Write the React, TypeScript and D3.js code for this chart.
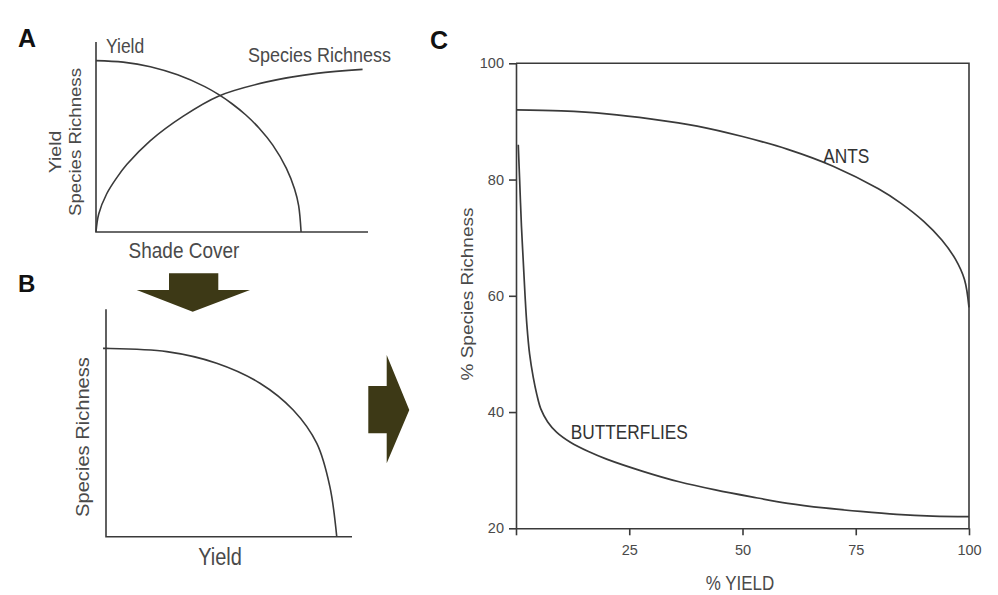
import React, { useRef, useEffect } from 'react';
import * as d3 from 'd3';

// Panel A: yield and species richness vs. shade cover (relative units 0-100)
const yieldShade = [0, 10, 20, 30, 40, 45, 50, 55, 60, 65, 70, 73, 74.5, 75.4];
const yieldLevel = [90.2, 89.4, 87.0, 82.7, 76.5, 72.4, 67.5, 61.7, 54.6, 45.7, 33.5, 22.6, 13.9, 0];
const richnessShade = [0, 1, 3.9, 7.6, 11.3, 19.9, 32.1, 45, 62.8, 81.1, 98];
const richnessLevel = [0, 9.5, 20, 28.5, 35.5, 48, 61, 71.5, 79, 83.5, 85.6];

// Panel B: the resulting trade-off frontier
const frontierYield = [-1.2, 0, 24.7, 45, 62.6, 76.1, 85.7, 91, 93.8];
const frontierRichness = [82.8, 82.8, 81.4, 76.3, 67.5, 55.7, 41, 22, 0];

// Panel C: % species richness vs % yield
const antsYield = [0, 10, 20, 30, 40, 50, 60, 70, 80, 85, 90, 94, 97, 99, 100];
const antsRichness = [92, 91.8, 91.3, 90.4, 89.2, 87.4, 85.2, 82.3, 78.4, 75.9, 72.8, 69.6, 66.3, 62.8, 58];
const butterflyYield = [0.5, 0.8, 1.2, 1.6, 2.0, 2.4, 3.0, 3.8, 4.6, 5.5, 7, 9, 12, 16, 20, 28, 36, 44, 52, 60, 68, 76, 84, 92, 100];
const butterflyRichness = [86, 80, 72, 66, 60, 55, 50, 46, 43, 40.5, 38.3, 36.5, 34.8, 33.2, 31.9, 29.8, 28.0, 26.6, 25.4, 24.3, 23.5, 22.9, 22.4, 22.1, 22];
const xTicksC = [0, 25, 50, 75, 100];
const yTicksC = [20, 40, 60, 80, 100];

const font = "'Liberation Sans', Arial, Helvetica, sans-serif";
const ink = '#3a3a3a';
const labelInk = '#4a4a4a';
const arrowFill = '#3d3916';
const stretch = 1.15; // the source figure is slightly stretched vertically

const App: React.FC = () => {
    const svgRef = useRef<SVGSVGElement>(null);

    useEffect(() => {
        if (!svgRef.current) return;
        const svg = d3.select(svgRef.current);
        svg.selectAll("*").remove();

        const addText = (txt: string, x: number, y: number, size: number, opts: any = {}) => {
            const t = svg.append("text")
                .attr("x", 0)
                .attr("y", 0)
                .text(txt)
                .attr("font-family", font)
                .attr("font-size", size)
                .attr("fill", opts.fill || labelInk)
                .attr("text-anchor", opts.anchor || "start");
            if (opts.bold) t.attr("font-weight", "bold");
            const s = opts.noStretch ? 1 : stretch;
            if (opts.rotate) t.attr("transform", `translate(${x},${y}) rotate(-90) scale(${s},1)`);
            else t.attr("transform", `translate(${x},${y}) scale(1,${s})`);
            return t;
        };

        const drawCurve = (xs: number[], ys: number[], sx: d3.ScaleLinear<number, number>, sy: d3.ScaleLinear<number, number>, width = 1.6) => {
            const line = d3.line<[number, number]>()
                .x(d => sx(d[0]))
                .y(d => sy(d[1]))
                .curve(d3.curveCatmullRom.alpha(0.5));
            svg.append("path")
                .datum(d3.zip(xs, ys) as [number, number][])
                .attr("fill", "none")
                .attr("stroke", ink)
                .attr("stroke-width", width)
                .attr("d", line);
        };

        // ---------- Panel A ----------
        const xA = d3.scaleLinear().domain([0, 100]).range([96, 368]);
        const yA = d3.scaleLinear().domain([0, 100]).range([232, 42]);

        svg.append("path")
            .attr("d", `M${xA(0)},${yA(100)}V${yA(0)}H${xA(100)}`)
            .attr("fill", "none")
            .attr("stroke", ink)
            .attr("stroke-width", 1.6);

        drawCurve(yieldShade, yieldLevel, xA, yA);
        drawCurve(richnessShade, richnessLevel, xA, yA);

        addText("A", 18, 47, 25, { bold: true, fill: "#111", noStretch: true });
        addText("Yield", 106, 53, 17.5);
        addText("Species Richness", 248, 62, 18);
        addText("Shade Cover", 184, 258, 19, { anchor: "middle" });
        addText("Yield", 61, 152, 17, { anchor: "middle", rotate: true });
        addText("Species Richness", 81, 142, 16.2, { anchor: "middle", rotate: true });

        // arrow A -> B
        svg.append("polygon")
            .attr("points", [[169, 273.3], [218.3, 273.3], [218.3, 290], [250, 290], [192.7, 311.7], [136.7, 290], [169, 290]].map(p => p.join(",")).join(" "))
            .attr("fill", arrowFill);

        // ---------- Panel B ----------
        const xB = d3.scaleLinear().domain([0, 100]).range([106, 352]);
        const yB = d3.scaleLinear().domain([0, 100]).range([536.7, 309.3]);

        svg.append("path")
            .attr("d", `M${xB(0)},${yB(100)}V${yB(0)}H${xB(100)}`)
            .attr("fill", "none")
            .attr("stroke", ink)
            .attr("stroke-width", 1.6);

        drawCurve(frontierYield, frontierRichness, xB, yB);

        addText("B", 18, 291.7, 24, { bold: true, fill: "#111", noStretch: true });
        addText("Species Richness", 89, 437, 17.5, { anchor: "middle", rotate: true });
        addText("Yield", 220, 565, 20, { anchor: "middle" });

        // arrow B -> C
        svg.append("polygon")
            .attr("points", [[368.3, 386], [386.7, 386], [386.7, 355], [409.3, 410], [386.7, 463.3], [386.7, 433.3], [368.3, 433.3]].map(p => p.join(",")).join(" "))
            .attr("fill", arrowFill);

        // ---------- Panel C ----------
        const xC = d3.scaleLinear().domain([0, 100]).range([516, 969]);
        const yC = d3.scaleLinear().domain([20, 100]).range([528.3, 63.3]);

        // frame (top and right)
        svg.append("path")
            .attr("d", `M${xC(0)},${yC(100)}H${xC(100)}V${yC(20)}`)
            .attr("fill", "none")
            .attr("stroke", ink)
            .attr("stroke-width", 1.6);

        const gx = svg.append("g")
            .attr("transform", `translate(0,${yC(20)})`)
            .call(d3.axisBottom(xC).tickValues(xTicksC).tickSize(7).tickSizeOuter(0).tickPadding(9)
                .tickFormat(d => (d === 0 ? "" : String(d))));
        const gy = svg.append("g")
            .attr("transform", `translate(${xC(0)},0)`)
            .call(d3.axisLeft(yC).tickValues(yTicksC).tickSize(7).tickSizeOuter(0).tickPadding(5));

        [gx, gy].forEach(g => {
            g.selectAll("path, line").attr("stroke", ink).attr("stroke-width", 1.6);
            g.selectAll("text").attr("fill", labelInk).attr("font-size", 14.5).attr("font-family", font);
        });

        drawCurve(antsYield, antsRichness, xC, yC, 1.7);
        drawCurve(butterflyYield, butterflyRichness, xC, yC, 1.7);

        addText("C", 430, 48.5, 25, { bold: true, fill: "#111", noStretch: true });
        addText("ANTS", 823.3, 162.7, 17.3, { fill: "#333" });
        addText("BUTTERFLIES", 570.7, 439.3, 17.3, { fill: "#333" });
        addText("% Species Richness", 473, 294, 16.5, { anchor: "middle", rotate: true });
        addText("% YIELD", 740, 590, 17, { anchor: "middle" });
    }, []);

    return (
        <svg
            ref={svgRef}
            width={998}
            height={595}
            viewBox="0 0 998 595"
            style={{ position: "absolute", left: 0, top: 0, background: "#fff" }}
        />
    );
};

export default App;
